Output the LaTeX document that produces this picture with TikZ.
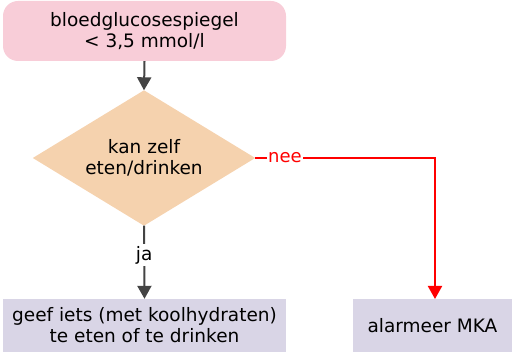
\documentclass[tikz,border=0pt]{standalone}
\usepackage{fontspec}
\setmainfont{DejaVu Sans}
\usetikzlibrary{arrows.meta}
\definecolor{pinkfill}{HTML}{F8CDD8}
\definecolor{peachfill}{HTML}{F5D2AE}
\definecolor{lavfill}{HTML}{D9D5E6}
\definecolor{darkline}{HTML}{444444}
\begin{document}
\begin{tikzpicture}[x=1pt,y=-1pt,
  txt/.style={font=\fontsize{18.5}{21}\selectfont, align=center, text=black},
  startbox/.style={txt, fill=pinkfill, rounded corners=15pt, minimum width=283pt, minimum height=60pt, inner sep=0pt},
  actbox/.style={txt, fill=lavfill, minimum height=53pt, inner sep=0pt},
  flow/.style={draw=darkline, line width=2pt, -{Triangle[length=13pt,width=14pt]}},
  noflow/.style={draw=red, line width=2pt, -{Triangle[length=13pt,width=14pt]}},
  lbl/.style={font=\fontsize{18.5}{21}\selectfont, fill=white, inner sep=1pt}
]
\useasboundingbox (0,0) rectangle (512,352);
\node[startbox] (start) at (144.5,31) {bloedglucosespiegel\\< 3,5 mmol/l};
\node[minimum width=222pt, minimum height=135pt, inner sep=0pt] (dec) at (144,158) {};
\fill[peachfill] (dec.north) -- (dec.east) -- (dec.south) -- (dec.west) -- cycle;
\node[txt] at (dec.center) {kan zelf\\eten/drinken};
\node[actbox, minimum width=283pt] (eat) at (144.5,325.5) {geef iets (met koolhydraten)\\te eten of te drinken};
\node[actbox, minimum width=159pt] (mka) at (432.5,325.5) {alarmeer MKA};
\coordinate (mkain) at (435,299);
\draw[flow] (start.south) -- (dec.north);
\draw[flow] (dec.south) -- node[lbl, pos=0.4, inner sep=2pt] {ja} (eat.north);
\draw[noflow] (dec.east) -- ++(2,0) -| (mkain);
\node[lbl, text=red, font=\fontsize{18}{20}\selectfont] at (285,158) {nee};
\end{tikzpicture}
\end{document}
